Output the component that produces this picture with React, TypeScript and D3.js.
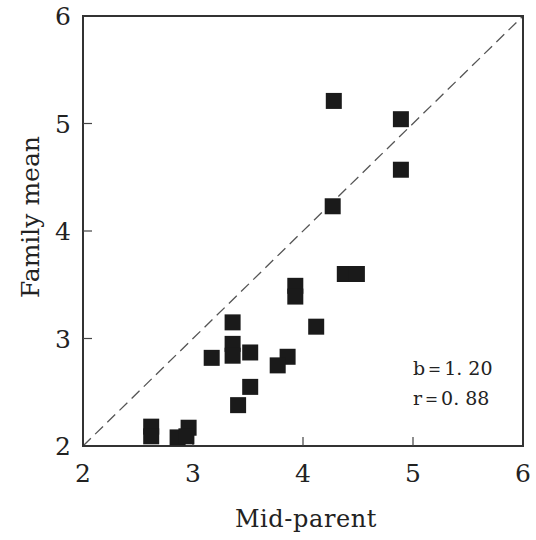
import { useEffect, useRef } from "react";
import * as d3 from "d3";

const midParent = [4.28, 4.89, 4.89, 4.27, 4.38, 4.49, 4.12, 3.93, 3.93, 3.36, 3.36, 3.36, 3.52, 3.17, 3.86, 3.77, 3.52, 3.41, 2.62, 2.62, 2.86, 2.96, 2.94];
const familyMean = [5.21, 5.04, 4.57, 4.23, 3.6, 3.6, 3.11, 3.49, 3.39, 3.15, 2.95, 2.84, 2.87, 2.82, 2.83, 2.75, 2.55, 2.38, 2.18, 2.09, 2.08, 2.17, 2.09];
const ticks = [2, 3, 4, 5, 6];
const statLines = ["b＝1. 20", "r＝0. 88"];

const App = () => {
  const svgRef = useRef<SVGSVGElement>(null);

  useEffect(() => {
    const W = 536;
    const H = 540;
    const M = { left: 83, right: 13, top: 16, bottom: 94 };
    const font = "'DejaVu Serif', 'Liberation Serif', serif";

    const svg = d3.select(svgRef.current).attr("width", W).attr("height", H);
    svg.selectAll("*").remove();

    const x = d3.scaleLinear().domain([2, 6]).range([M.left, W - M.right]);
    const y = d3.scaleLinear().domain([2, 6]).range([H - M.bottom, M.top]);

    const g = svg.append("g");

    // diagonal 1:1 line
    g.append("line")
      .attr("x1", x(2)).attr("y1", y(2))
      .attr("x2", x(6)).attr("y2", y(6))
      .attr("stroke", "#555")
      .attr("stroke-width", 1.3)
      .attr("stroke-dasharray", "11,6");

    // frame
    g.append("rect")
      .attr("x", x(2)).attr("y", y(6))
      .attr("width", x(6) - x(2)).attr("height", y(2) - y(6))
      .attr("fill", "none")
      .attr("stroke", "#333")
      .attr("stroke-width", 2);

    // inward ticks
    g.selectAll(".xt")
      .data(ticks.slice(1, -1))
      .enter()
      .append("line")
      .attr("x1", (d) => x(d)).attr("x2", (d) => x(d))
      .attr("y1", y(2)).attr("y2", y(2) - 9)
      .attr("stroke", "#444").attr("stroke-width", 1.2);

    g.selectAll(".yt")
      .data(ticks.slice(1, -1))
      .enter()
      .append("line")
      .attr("x1", x(2)).attr("x2", x(2) + 9)
      .attr("y1", (d) => y(d)).attr("y2", (d) => y(d))
      .attr("stroke", "#444").attr("stroke-width", 1.2);

    g.selectAll(".xl")
      .data(ticks)
      .enter()
      .append("text")
      .attr("x", (d) => x(d))
      .attr("y", y(2) + 36)
      .attr("text-anchor", "middle")
      .attr("font-family", font)
      .attr("font-size", 25)
      .attr("fill", "#222")
      .text((d) => d);

    g.selectAll(".yl")
      .data(ticks)
      .enter()
      .append("text")
      .attr("x", x(2) - 12)
      .attr("y", (d) => y(d) + 9)
      .attr("text-anchor", "end")
      .attr("font-family", font)
      .attr("font-size", 25)
      .attr("fill", "#222")
      .text((d) => d);

    g.append("text")
      .attr("x", 306)
      .attr("y", 527)
      .attr("text-anchor", "middle")
      .attr("font-family", font)
      .attr("font-size", 24)
      .attr("letter-spacing", 0.6)
      .attr("fill", "#222")
      .text("Mid-parent");

    g.append("text")
      .attr("transform", `translate(39, 217) rotate(-90)`)
      .attr("text-anchor", "middle")
      .attr("font-family", font)
      .attr("font-size", 25)
      .attr("fill", "#222")
      .text("Family mean");

    g.selectAll(".stat")
      .data(statLines)
      .enter()
      .append("text")
      .attr("x", 413)
      .attr("y", (d, i) => 375 + i * 30)
      .attr("font-family", font)
      .attr("font-size", 19)
      .attr("fill", "#222")
      .text((d) => d);

    const S = 16;
    g.selectAll(".pt")
      .data(midParent)
      .enter()
      .append("rect")
      .attr("x", (d) => x(d) - S / 2)
      .attr("y", (d, i) => y(familyMean[i]) - S / 2)
      .attr("width", S)
      .attr("height", S)
      .attr("fill", "#1a1a1a");
  }, []);

  return <svg ref={svgRef} style={{ position: "absolute", left: 0, top: 0 }} />;
};

export default App;
